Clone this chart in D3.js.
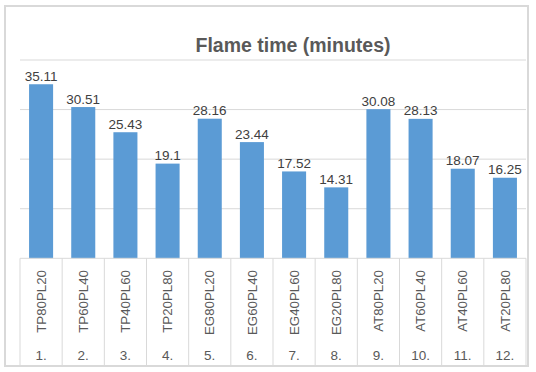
<!DOCTYPE html>
<html><head><meta charset="utf-8">
<script src="https://cdn.jsdelivr.net/npm/d3@7"></script>
<style>body{margin:0;background:#fff}svg{display:block}</style>
</head><body>
<svg id="c" width="536" height="372"></svg>
<script>
const categories = ["TP80PL20","TP60PL40","TP40PL60","TP20PL80","EG80PL20","EG60PL40","EG40PL60","EG20PL80","AT80PL20","AT60PL40","AT40PL60","AT20PL80"];
const groups = ["1.","2.","3.","4.","5.","6.","7.","8.","9.","10.","11.","12."];
const values = [35.11,30.51,25.43,19.1,28.16,23.44,17.52,14.31,30.08,28.13,18.07,16.25];
const yTicks = [0,10,20,30,40];
const title = "Flame time (minutes)";

(function(){
const svg = d3.select("#c");
const font = "'Liberation Sans', Arial, sans-serif";
const pLeft = 20, pRight = 526, pTop = 60, pBase = 258.3, pBottom = 365;

svg.append("rect").attr("x",5).attr("y",6).attr("width",523).attr("height",360)
  .attr("fill","#fff").attr("stroke","#d9d9d9").attr("stroke-width",2);

const x = d3.scaleBand().domain(d3.range(categories.length)).range([pLeft,pRight]).paddingInner(0.43).paddingOuter(0.215);
const xOuter = d3.scaleBand().domain(d3.range(categories.length)).range([pLeft,pRight]);
const y = d3.scaleLinear().domain([0,40]).range([pBase,pTop]);

// gridlines
svg.append("g").selectAll("line").data(yTicks.filter(d=>d>0)).join("line")
  .attr("x1",pLeft).attr("x2",pRight).attr("y1",d=>y(d)).attr("y2",d=>y(d))
  .attr("stroke","#d9d9d9").attr("stroke-width",1);

// bars
svg.append("g").selectAll("rect").data(values).join("rect")
  .attr("x",(d,i)=>x(i)).attr("width",x.bandwidth())
  .attr("y",d=>y(d)).attr("height",d=>pBase-y(d))
  .attr("fill","#5b9bd5");

// baseline
svg.append("line").attr("x1",pLeft).attr("x2",pRight).attr("y1",pBase).attr("y2",pBase)
  .attr("stroke","#d9d9d9").attr("stroke-width",1);

// category separators
const seps = d3.range(categories.length+1).map(i => i<categories.length ? xOuter(i) : pRight);
svg.append("g").selectAll("line").data(seps).join("line")
  .attr("x1",d=>d).attr("x2",d=>d).attr("y1",pBase).attr("y2",pBottom)
  .attr("stroke","#d9d9d9").attr("stroke-width",1);

// data labels
svg.append("g").selectAll("text").data(values).join("text")
  .attr("x",(d,i)=>x(i)+x.bandwidth()/2).attr("y",d=>y(d)-3.5)
  .attr("text-anchor","middle").attr("font-family",font).attr("font-size",13.5)
  .attr("fill","#404040").text(d=>d);

// category labels (rotated)
svg.append("g").selectAll("text").data(categories).join("text")
  .attr("transform",(d,i)=>`translate(${xOuter(i)+xOuter.bandwidth()/2},270) rotate(-90)`)
  .attr("dy","0.35em").attr("text-anchor","end")
  .attr("font-family",font).attr("font-size",13.3).attr("fill","#595959").text(d=>d);

// group labels
svg.append("g").selectAll("text").data(groups).join("text")
  .attr("x",(d,i)=>xOuter(i)+xOuter.bandwidth()/2).attr("y",360)
  .attr("text-anchor","middle").attr("font-family",font).attr("font-size",13.5)
  .attr("fill","#595959").text(d=>d);

// title
svg.append("text").attr("x",293).attr("y",52).attr("text-anchor","middle")
  .attr("font-family",font).attr("font-size",19.5).attr("font-weight","bold")
  .attr("fill","#595959").text(title);
})();
</script>
</body></html>
